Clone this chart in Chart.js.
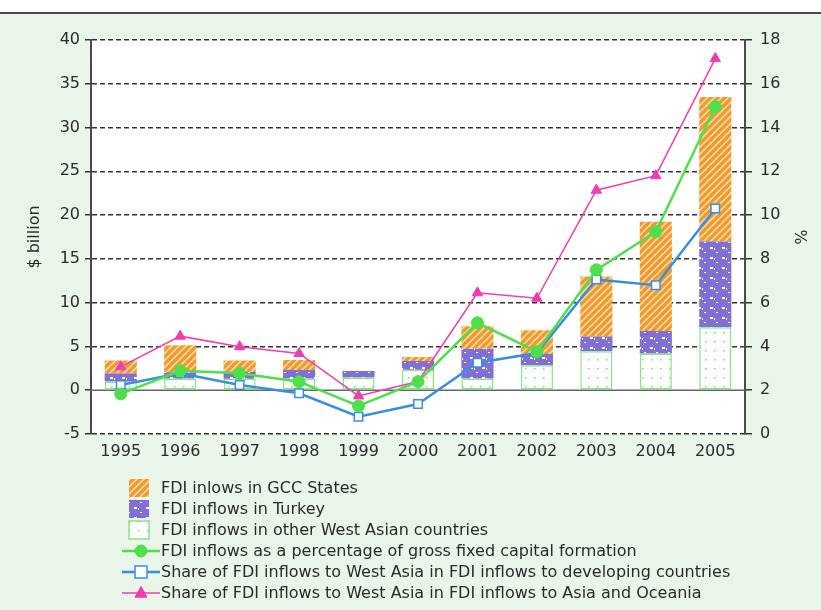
<!DOCTYPE html>
<html lang="en">
<head>
<meta charset="UTF-8">
<title>FDI inflows to West Asia</title>
<script src="https://cdn.jsdelivr.net/npm/chart.js"></script>
<style>
  body { margin: 0; background: #fff; width: 821px; height: 610px; overflow: hidden; position: relative; }
  #panel { position: absolute; left: 0; top: 12px; width: 821px; height: 596px; background: #e9f5e9; border-top: 2px solid #4a4a4a; }
  #chart { position: absolute; left: 0; top: 14px; }
</style>
</head>
<body>
<div id="panel"></div>
<canvas id="chart" width="821" height="596"></canvas>

<script>
// categories
const years = ['1995', '1996', '1997', '1998', '1999', '2000', '2001', '2002', '2003', '2004', '2005'];

// $ billion (stacked bars)
const otherWestAsia = [1.0, 1.35, 1.3, 1.35, 1.45, 2.35, 1.35, 2.85, 4.45, 4.2, 7.2];
const turkey = [0.9, 0.7, 0.8, 0.95, 0.75, 1.0, 3.4, 1.3, 1.7, 2.55, 9.8];
const gccStates = [1.5, 3.1, 1.3, 1.15, 0, 0.45, 2.55, 2.7, 6.85, 12.5, 16.5];

// % (right axis)
const pctOfGfcf = [1.83, 2.89, 2.77, 2.39, 1.28, 2.39, 5.08, 3.76, 7.5, 9.24, 14.95];
const shareDeveloping = [2.24, 2.77, 2.24, 1.86, 0.79, 1.37, 3.26, 3.7, 7.06, 6.8, 10.3];
const shareAsiaOceania = [3.07, 4.47, 3.99, 3.68, 1.74, 2.4, 6.45, 6.2, 11.14, 11.8, 17.15];

// axis ranges
const leftMin = -5, leftMax = 40, leftStep = 5;
const rightMin = 0, rightMax = 18, rightStep = 2;

const FONT = '"DejaVu Sans", sans-serif';

function makePattern(w, h, draw) {
    const c = document.createElement('canvas');
    c.width = w; c.height = h;
    const g = c.getContext('2d');
    draw(g);
    return document.getElementById('chart').getContext('2d').createPattern(c, 'repeat');
}

const gccPattern = makePattern(7, 7, g => {
    g.fillStyle = '#f09a2c';
    g.fillRect(0, 0, 7, 7);
    g.strokeStyle = '#f7d7a6';
    g.lineWidth = 1.6;
    g.beginPath();
    g.moveTo(-1, 8); g.lineTo(8, -1);
    g.moveTo(-1, 1); g.lineTo(1, -1);
    g.moveTo(6, 8); g.lineTo(8, 6);
    g.stroke();
});

const turkeyPattern = makePattern(12, 10, g => {
    g.fillStyle = '#7f6fd6';
    g.fillRect(0, 0, 12, 10);
    g.fillStyle = '#ffffff';
    g.fillRect(2, 3, 3, 2);
    g.fillRect(6, 4, 1, 2);
    g.fillRect(8, 8, 2, 1);
});

const otherPattern = makePattern(9, 9, g => {
    g.fillStyle = '#ffffff';
    g.fillRect(0, 0, 9, 9);
    g.fillStyle = '#78dc78';
    g.fillRect(3, 3, 1.5, 1.5);
});

// white plot area
const plotBackground = {
    id: 'plotBackground',
    beforeDraw(chart) {
        const { left, top, width, height } = chart.chartArea;
        chart.ctx.save();
        chart.ctx.fillStyle = '#ffffff';
        chart.ctx.fillRect(left, top, width, height);
        chart.ctx.restore();
    }
};

// zero line across the plot
const zeroLine = {
    id: 'zeroLine',
    beforeDatasetsDraw(chart) {
        const y = chart.scales.y.getPixelForValue(0);
        const { left, right } = chart.chartArea;
        const ctx = chart.ctx;
        ctx.save();
        ctx.strokeStyle = '#666';
        ctx.lineWidth = 1.5;
        ctx.beginPath();
        ctx.moveTo(left, y);
        ctx.lineTo(right, y);
        ctx.stroke();
        ctx.restore();
    }
};

function drawMarker(ctx, style, x, y, r) {
    ctx.beginPath();
    if (style === 'circle') {
        ctx.arc(x, y, r, 0, Math.PI * 2);
    } else if (style === 'rect') {
        ctx.rect(x - r, y - r, r * 2, r * 2);
    } else if (style === 'triangle') {
        ctx.moveTo(x, y - r * 1.1);
        ctx.lineTo(x + r, y + r * 0.7);
        ctx.lineTo(x - r, y + r * 0.7);
        ctx.closePath();
    }
    ctx.fill();
    ctx.stroke();
}

// legend drawn under the chart, vertical list
const listLegend = {
    id: 'listLegend',
    afterDraw(chart) {
        const ctx = chart.ctx;
        const order = [2, 1, 0, 3, 4, 5];
        ctx.save();
        ctx.font = '16px ' + FONT;
        ctx.textBaseline = 'middle';
        order.forEach((idx, row) => {
            const ds = chart.data.datasets[idx];
            const y = 474 + row * 21;
            if (ds.type === 'bar') {
                ctx.fillStyle = ds.backgroundColor;
                ctx.fillRect(129, y - 9, 20, 18);
                if (ds.borderWidth) {
                    ctx.strokeStyle = ds.borderColor;
                    ctx.lineWidth = 1.5;
                    ctx.strokeRect(129, y - 9, 20, 18);
                }
            } else {
                ctx.strokeStyle = ds.borderColor;
                ctx.lineWidth = ds.borderWidth;
                ctx.beginPath();
                ctx.moveTo(122, y);
                ctx.lineTo(160, y);
                ctx.stroke();
                ctx.fillStyle = ds.pointBackgroundColor;
                ctx.strokeStyle = ds.pointBorderColor;
                ctx.lineWidth = ds.pointBorderWidth;
                drawMarker(ctx, ds.pointStyle, 141, y, ds.pointRadius);
            }
            ctx.fillStyle = '#2a2a2a';
            ctx.fillText(ds.label, 161, y + 1);
        });
        ctx.restore();
    }
};

new Chart(document.getElementById('chart'), {
    data: {
        labels: years,
        datasets: [
            { type: 'bar', label: 'FDI inflows in other West Asian countries', data: otherWestAsia,
              backgroundColor: otherPattern, borderColor: '#86e486', borderWidth: 1.5, borderSkipped: false,
              yAxisID: 'y', order: 10 },
            { type: 'bar', label: 'FDI inflows in Turkey', data: turkey,
              backgroundColor: turkeyPattern, borderWidth: 0, yAxisID: 'y', order: 10 },
            { type: 'bar', label: 'FDI inlows in GCC States', data: gccStates,
              backgroundColor: gccPattern, borderWidth: 0, yAxisID: 'y', order: 10 },
            { type: 'line', label: 'FDI inflows as a percentage of gross fixed capital formation', data: pctOfGfcf,
              borderColor: '#4ee04a', borderWidth: 2.5, pointStyle: 'circle', pointRadius: 6,
              pointBackgroundColor: '#4ee04a', pointBorderColor: '#4ee04a', pointBorderWidth: 1,
              yAxisID: 'y2', order: 1 },
            { type: 'line', label: 'Share of FDI inflows to West Asia in FDI inflows to developing countries', data: shareDeveloping,
              borderColor: '#3a8ee2', borderWidth: 2.5, pointStyle: 'rect', pointRadius: 6,
              pointBackgroundColor: '#ffffff', pointBorderColor: '#3a8ee2', pointBorderWidth: 1.5,
              yAxisID: 'y2', order: 2 },
            { type: 'line', label: 'Share of FDI inflows to West Asia in FDI inflows to Asia and Oceania', data: shareAsiaOceania,
              borderColor: '#f03cb0', borderWidth: 1.5, pointStyle: 'triangle', pointRadius: 6,
              pointBackgroundColor: '#f03cb0', pointBorderColor: '#f03cb0', pointBorderWidth: 1,
              yAxisID: 'y2', order: 3 }
        ]
    },
    options: {
        responsive: false,
        animation: false,
        layout: { padding: { top: 26, left: 0, right: 0, bottom: 146 } },
        plugins: { legend: { display: false }, tooltip: { enabled: false } },
        datasets: { bar: { categoryPercentage: 1, barPercentage: 0.54 } },
        scales: {
            x: {
                stacked: true,
                grid: { display: false },
                border: { display: false },
                ticks: { color: '#2a2a2a', font: { family: FONT, size: 16 }, padding: 0, maxRotation: 0 },
                afterFit(s) { s.height = 30; }
            },
            y: {
                stacked: true,
                position: 'left',
                min: leftMin, max: leftMax,
                grid: {
                    color: ctx => (ctx.tick && ctx.tick.value === 0) ? 'rgba(0,0,0,0)' : '#333',
                    tickColor: '#333',
                    lineWidth: 1.5, tickLength: 6
                },
                border: { display: true, color: '#4a4a4a', width: 2, dash: [5, 3] },
                ticks: { stepSize: leftStep, color: '#2a2a2a', font: { family: FONT, size: 16 }, padding: 5 },
                title: { display: true, text: '$ billion', color: '#2a2a2a', font: { family: FONT, size: 16 }, padding: { top: 25 } },
                afterFit(s) { s.width = 91; }
            },
            y2: {
                position: 'right',
                min: rightMin, max: rightMax,
                grid: { drawOnChartArea: false, color: '#333', lineWidth: 1.5, tickLength: 7 },
                border: { display: true, color: '#4a4a4a', width: 2 },
                ticks: { stepSize: rightStep, color: '#2a2a2a', font: { family: FONT, size: 16 }, padding: 8 },
                title: { display: true, text: '%', color: '#2a2a2a', font: { family: FONT, size: 16 }, padding: { top: 12 } },
                afterFit(s) { s.width = 76; }
            }
        }
    },
    plugins: [plotBackground, zeroLine, listLegend]
});
</script>
</body>
</html>
